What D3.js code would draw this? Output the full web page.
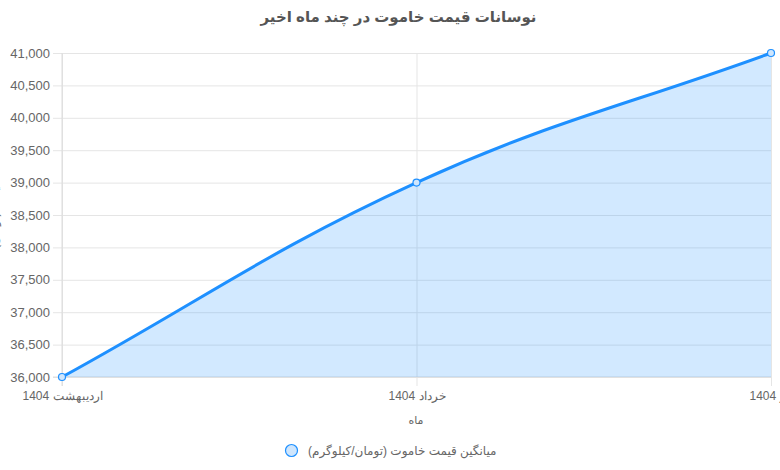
<!DOCTYPE html>
<html><head><meta charset="utf-8">
<script src="https://cdn.jsdelivr.net/npm/d3@7"></script>
<style>
html,body{margin:0;padding:0;background:#fff;overflow:hidden;}
svg{display:block;font-family:"Liberation Sans",Arial,"DejaVu Sans",sans-serif;}
</style></head>
<body>
<svg id="chart" width="780" height="470"></svg>
<script>
const categories = ["اردیبهشت 1404", "خرداد 1404", "تیر 1404"];
const prices = [36000, 39000, 41000];
const yTicks = [36000, 36500, 37000, 37500, 38000, 38500, 39000, 39500, 40000, 40500, 41000];
const titleText = "نوسانات قیمت خاموت در چند ماه اخیر";
const xTitle = "ماه";
const yTitle = "قیمت (تومان)";
const seriesName = "میانگین قیمت خاموت (تومان/کیلوگرم)";

(function () {
const svg = d3.select("#chart");
const pl = 62, pr = 771, pt = 53, pb = 377;
const lineColor = "#1e90ff";
const fillColor = "rgba(30,144,255,0.2)";

const x = d3.scalePoint().domain(categories).range([pl, pr]).padding(0);
const y = d3.scaleLinear().domain([36000, 41000]).range([pb, pt]);

const gy = svg.append("g").attr("transform", `translate(${pl},0)`)
  .call(d3.axisLeft(y).tickValues(yTicks).tickSize(9).tickFormat(d3.format(",")));
gy.select(".domain").remove();
gy.selectAll(".tick line").attr("stroke", "#e5e5e5");
gy.selectAll(".tick").append("line")
  .attr("x1", 0).attr("x2", pr - pl).attr("stroke", "#e5e5e5");
gy.selectAll(".tick text").attr("x", -12).attr("fill", "#666")
  .style("font-size", "13px").style("font-family", "inherit");

const gx = svg.append("g").attr("transform", `translate(0,${pb})`)
  .call(d3.axisBottom(x).tickSize(9));
gx.select(".domain").remove();
gx.selectAll(".tick line").attr("stroke", "#e5e5e5");
gx.selectAll(".tick").append("line")
  .attr("y1", 0).attr("y2", pt - pb).attr("stroke", "#e5e5e5");
gx.selectAll(".tick text").attr("y", 14).attr("fill", "#666")
  .style("font-size", "12px").style("font-family", "inherit");

svg.append("line").attr("x1", pl).attr("x2", pl).attr("y1", pt).attr("y2", pb + 9).attr("stroke", "#dcdcdc");
svg.append("line").attr("x1", pl - 9).attr("x2", pr).attr("y1", pb).attr("y2", pb).attr("stroke", "#dcdcdc");

const pts = categories.map((c, i) => ({x: x(c), y: y(prices[i])}));
const t = 0.4;
pts.forEach((p, i) => {
  const prev = pts[i - 1] || p, next = pts[i + 1] || p;
  const d01 = Math.hypot(p.x - prev.x, p.y - prev.y);
  const d12 = Math.hypot(next.x - p.x, next.y - p.y);
  let s01 = d01 / (d01 + d12), s12 = d12 / (d01 + d12);
  if (isNaN(s01)) s01 = 0; if (isNaN(s12)) s12 = 0;
  const fa = t * s01, fb = t * s12;
  p.cpPrev = {x: p.x - fa * (next.x - prev.x), y: p.y - fa * (next.y - prev.y)};
  p.cpNext = {x: p.x + fb * (next.x - prev.x), y: p.y + fb * (next.y - prev.y)};
});
function linePath(ctx) {
  ctx.moveTo(pts[0].x, pts[0].y);
  for (let i = 1; i < pts.length; i++) {
    const a = pts[i - 1], b = pts[i];
    ctx.bezierCurveTo(a.cpNext.x, a.cpNext.y, b.cpPrev.x, b.cpPrev.y, b.x, b.y);
  }
  return ctx;
}
const area = linePath(d3.path());
area.lineTo(pts[pts.length - 1].x, y(36000));
area.lineTo(pts[0].x, y(36000));
area.closePath();
svg.append("path").attr("d", area.toString()).attr("fill", fillColor);
svg.append("path").attr("d", linePath(d3.path()).toString())
  .attr("fill", "none").attr("stroke", lineColor).attr("stroke-width", 3);

svg.selectAll("circle.pt").data(pts).join("circle").attr("class", "pt")
  .attr("cx", d => d.x).attr("cy", d => d.y).attr("r", 3.5)
  .attr("fill", "#cfe6fd").attr("stroke", lineColor).attr("stroke-width", 1.2);

svg.append("text").attr("x", 398.5).attr("y", 22).attr("text-anchor", "middle")
  .attr("fill", "#555").style("font-size", "15px").style("font-weight", "bold").text(titleText);
svg.append("text").attr("x", 416).attr("y", 424).attr("text-anchor", "middle")
  .attr("fill", "#666").style("font-size", "11px").text(xTitle);
svg.append("text").attr("transform", "translate(-2,215) rotate(-90)").attr("text-anchor", "middle")
  .attr("fill", "#666").style("font-size", "12px").text(yTitle);

svg.append("circle").attr("cx", 291.5).attr("cy", 450.5).attr("r", 6)
  .attr("fill", "#cfe6fd").attr("stroke", lineColor).attr("stroke-width", 1.2);
svg.append("text").attr("x", 308).attr("y", 455).attr("text-anchor", "start")
  .attr("fill", "#666").style("font-size", "12px").text(seriesName);
})();
</script>
</body></html>
